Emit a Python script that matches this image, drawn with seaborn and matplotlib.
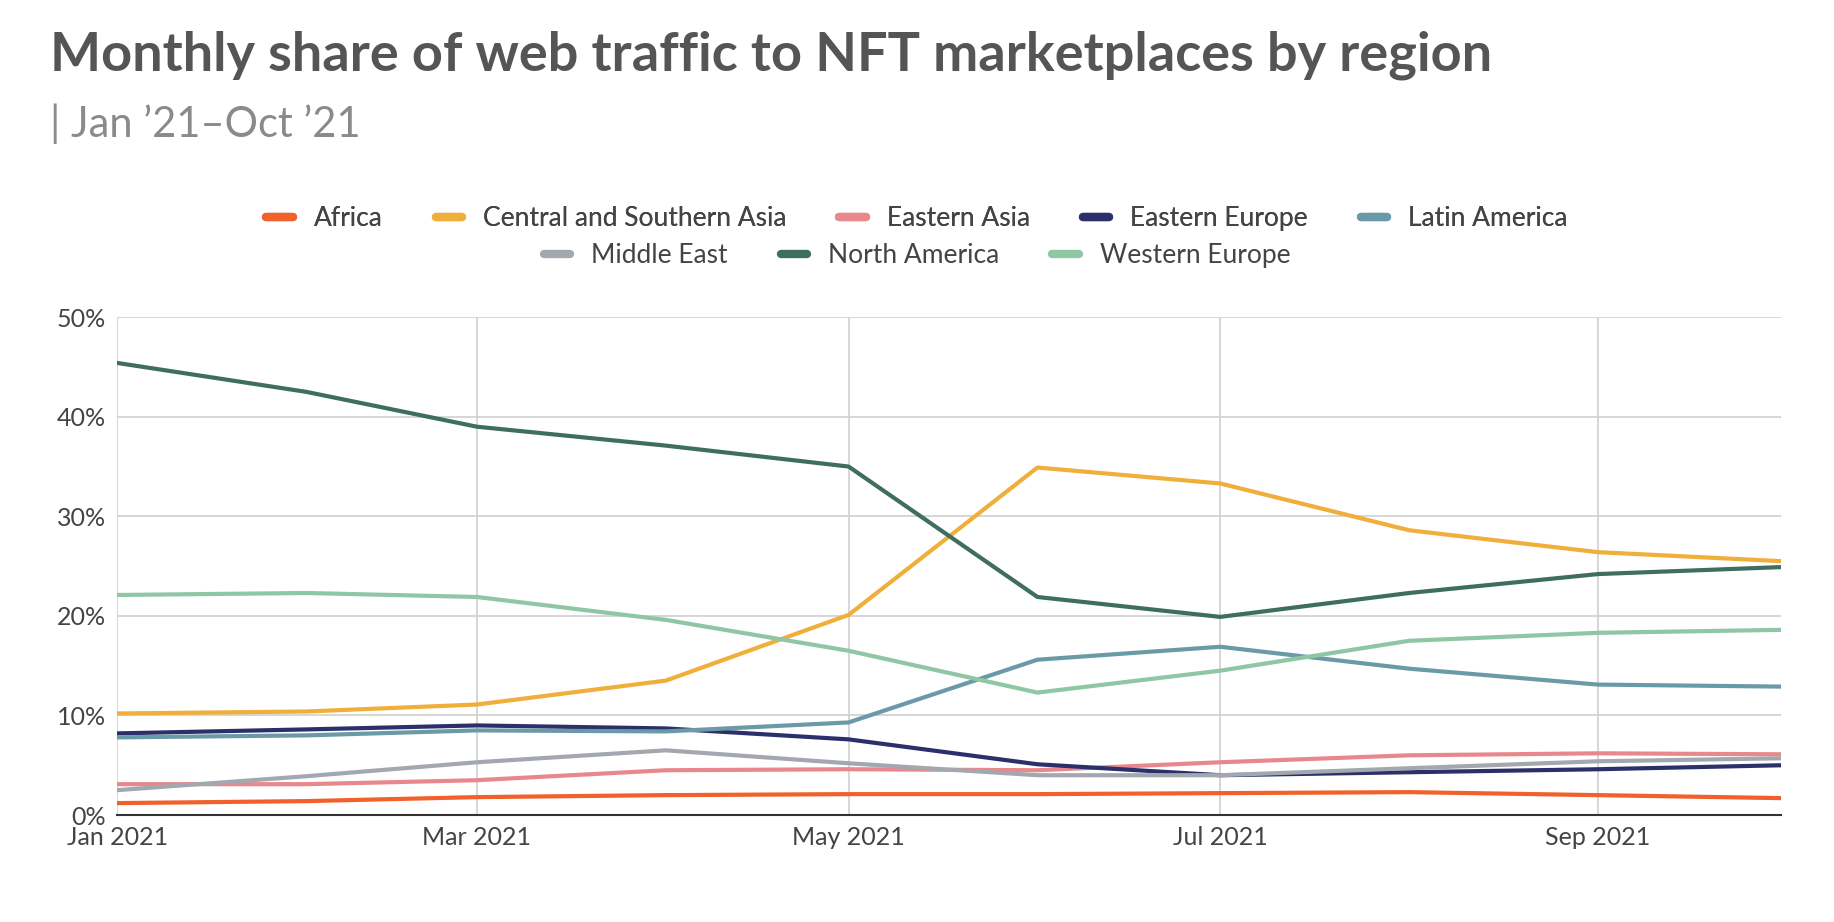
import matplotlib.pyplot as plt
import matplotlib.dates as mdates
import matplotlib.ticker as mticker
import pandas as pd
import seaborn as sns

months = pd.date_range("2021-01-01", "2021-10-01", freq="MS")
regions = ["Africa", "Central and Southern Asia", "Eastern Asia", "Eastern Europe",
           "Latin America", "Middle East", "North America", "Western Europe"]
africa = [1.2, 1.4, 1.8, 2.0, 2.1, 2.1, 2.2, 2.3, 2.0, 1.7]
central_southern_asia = [10.2, 10.4, 11.1, 13.5, 20.1, 34.9, 33.3, 28.6, 26.4, 25.5]
eastern_asia = [3.1, 3.1, 3.5, 4.5, 4.6, 4.5, 5.3, 6.0, 6.2, 6.1]
eastern_europe = [8.2, 8.6, 9.0, 8.7, 7.6, 5.1, 4.0, 4.3, 4.6, 5.0]
latin_america = [7.8, 8.0, 8.5, 8.4, 9.3, 15.6, 16.9, 14.7, 13.1, 12.9]
middle_east = [2.5, 3.9, 5.3, 6.5, 5.2, 4.0, 4.0, 4.7, 5.4, 5.7]
north_america = [45.4, 42.5, 39.0, 37.1, 35.0, 21.9, 19.9, 22.3, 24.2, 24.9]
western_europe = [22.1, 22.3, 21.9, 19.6, 16.5, 12.3, 14.5, 17.5, 18.3, 18.6]
colors = ["#f0612b", "#f0ae3a", "#e8888c", "#2b306b", "#6a9aa8", "#a3a8b0", "#3f6e5e", "#8fc6a4"]

series = [africa, central_southern_asia, eastern_asia, eastern_europe,
          latin_america, middle_east, north_america, western_europe]
df = pd.concat([pd.DataFrame({"month": months, "share": s, "region": r})
                for r, s in zip(regions, series)])

sns.set_theme(style="white")
plt.rcParams["font.family"] = ["Lato", "DejaVu Sans"]

fig = plt.figure(figsize=(18.34, 9.22), dpi=100)
ax = fig.add_axes([0.064, 0.116, 0.907, 0.54])
sns.lineplot(data=df, x="month", y="share", hue="region", hue_order=regions,
             palette=colors, linewidth=3, ax=ax, legend=False)

ax.set_xlim(months[0], months[-1])
ax.set_ylim(0, 50)
ax.yaxis.set_major_locator(mticker.MultipleLocator(10))
ax.yaxis.set_major_formatter(mticker.FuncFormatter(lambda v, _: f"{v:.0f}%"))
ax.xaxis.set_major_locator(mdates.MonthLocator(bymonth=[1, 3, 5, 7, 9]))
ax.xaxis.set_major_formatter(mdates.DateFormatter("%b %Y"))
ax.grid(True, color="#d0d0d0", linewidth=1.2)
for s in ["top", "right", "left"]:
    ax.spines[s].set_visible(False)
ax.spines["bottom"].set_color("#333333")
ax.spines["bottom"].set_linewidth(1.5)
ax.set_xlabel("")
ax.set_ylabel("")
ax.tick_params(labelsize=18, colors="#444444", length=0, pad=8)

handles = [plt.Line2D([], [], color=c, linewidth=6) for c in colors]
leg_kw = dict(loc="center", frameon=False, fontsize=19, handlelength=1.0,
              columnspacing=2.0, labelcolor="#444444")
leg1 = fig.legend(handles[:5], regions[:5], bbox_to_anchor=(0.5, 0.763), ncol=5, **leg_kw)
fig.add_artist(leg1)
fig.legend(handles[5:], regions[5:], bbox_to_anchor=(0.5, 0.723), ncol=3, **leg_kw)

fig.text(0.027, 0.94, "Monthly share of web traffic to NFT marketplaces by region",
         fontsize=39, fontweight="bold", color="#555555", va="center")
fig.text(0.027, 0.866, "| Jan \u201921\u2013Oct \u201921", fontsize=30,
         color="#8a8a8a", va="center")

fig.savefig("out.png", dpi=100)
plt.close(fig)
